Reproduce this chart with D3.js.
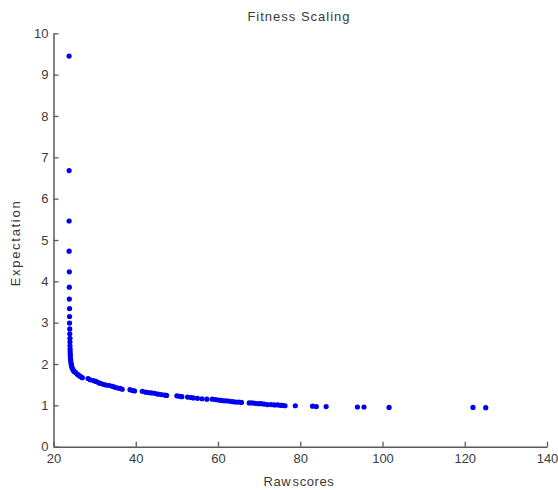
<!DOCTYPE html>
<html>
<head>
<meta charset="utf-8">
<script src="https://cdn.jsdelivr.net/npm/d3@7"></script>
<style>
  body { margin: 0; background: #fff; }
  svg { display: block; font-family: Arial, "Liberation Sans", sans-serif; }
</style>
</head>
<body>
<div id="chart"></div>
<script>
// raw scores (x) and expectation (y), one per individual, sorted by rank
const rawScores = [
  23.8, 23.8, 23.8, 23.8, 23.85, 23.85, 23.85, 23.9, 23.9, 23.9,
  23.95, 23.95, 24.0, 24.0, 24.0, 24.05, 24.05, 24.1, 24.1, 24.15,
  24.2, 24.3, 24.35, 24.45, 24.6, 24.8, 25.0, 25.4, 25.8, 26.1,
  26.5, 27.0, 28.4, 28.9, 29.7, 30.3, 30.9, 31.4, 32.1, 32.8,
  33.6, 34.3, 34.9, 35.6, 36.2, 36.7, 38.6, 39.2, 39.7, 41.6,
  42.4, 43.1, 43.8, 44.6, 45.4, 46.2, 47.0, 47.5, 50.0, 50.6,
  51.2, 52.6, 53.4, 54.0, 55.0, 56.1, 57.3, 58.6, 59.4, 60.1,
  60.8, 61.5, 62.2, 62.9, 63.6, 64.3, 65.0, 65.7, 67.6, 68.3,
  69.0, 69.8, 70.5, 71.2, 72.0, 72.9, 73.7, 74.5, 75.2, 75.7,
  76.3, 78.8, 83.0, 83.9, 86.3, 93.9, 95.5, 101.6, 122.0, 125.1
];
const expectation = [
  9.45, 6.68, 5.46, 4.73, 4.23, 3.86, 3.57, 3.34, 3.15, 2.99,
  2.85, 2.73, 2.62, 2.53, 2.44, 2.36, 2.29, 2.23, 2.17, 2.11,
  2.06, 2.01, 1.97, 1.93, 1.89, 1.85, 1.82, 1.79, 1.75, 1.73,
  1.70, 1.67, 1.65, 1.62, 1.60, 1.58, 1.55, 1.53, 1.51, 1.49,
  1.48, 1.46, 1.44, 1.42, 1.41, 1.39, 1.38, 1.36, 1.35, 1.34,
  1.32, 1.31, 1.30, 1.29, 1.27, 1.26, 1.25, 1.24, 1.23, 1.22,
  1.21, 1.20, 1.19, 1.18, 1.17, 1.16, 1.15, 1.15, 1.14, 1.13,
  1.12, 1.11, 1.11, 1.10, 1.09, 1.08, 1.08, 1.07, 1.06, 1.06,
  1.05, 1.04, 1.04, 1.03, 1.02, 1.02, 1.01, 1.01, 1.00, 1.00,
  0.99, 0.99, 0.98, 0.97, 0.97, 0.96, 0.96, 0.95, 0.95, 0.945
];
const xTicks = [20, 40, 60, 80, 100, 120, 140];
const yTicks = [0, 1, 2, 3, 4, 5, 6, 7, 8, 9, 10];

const width = 558, height = 490;
const margin = { top: 33.3, right: 11, bottom: 43.3, left: 53.5 };

const svg = d3.select('#chart').append('svg')
  .attr('width', width)
  .attr('height', height);

const x = d3.scaleLinear().domain([20, 140]).range([margin.left, width - margin.right]);
const y = d3.scaleLinear().domain([0, 10]).range([height - margin.bottom, margin.top]);

const axisColor = '#5a5a5a';
const textColor = '#3a3a3a';

// axes, MATLAB style: ticks pointing inward
const gx = svg.append('g')
  .attr('transform', `translate(0,${height - margin.bottom})`)
  .call(d3.axisBottom(x).tickValues(xTicks).tickSizeInner(-5).tickSizeOuter(0).tickPadding(7));
const gy = svg.append('g')
  .attr('transform', `translate(${margin.left},0)`)
  .call(d3.axisLeft(y).tickValues(yTicks).tickSizeInner(-5).tickSizeOuter(0).tickPadding(5));

[gx, gy].forEach(g => {
  g.select('.domain').attr('stroke', axisColor).attr('stroke-width', 1.5);
  g.selectAll('.tick line').attr('stroke', axisColor).attr('stroke-width', 1.3);
  g.selectAll('.tick text').attr('fill', textColor).attr('font-size', 13)
    .attr('font-family', 'Arial, "Liberation Sans", sans-serif');
});

// points
svg.append('g').selectAll('circle').data(rawScores.map((v, i) => [v, expectation[i]])).join('circle')
  .attr('cx', d => x(d[0]))
  .attr('cy', d => y(d[1]))
  .attr('r', 2.6)
  .attr('fill', '#0000f0');

// title and labels
svg.append('text')
  .attr('x', 299).attr('y', 21)
  .attr('text-anchor', 'middle')
  .attr('font-size', 13)
  .attr('letter-spacing', 1)
  .attr('fill', textColor)
  .text('Fitness Scaling');

svg.append('text')
  .attr('transform', `translate(20,${(margin.top + height - margin.bottom) / 2 + 3}) rotate(-90)`)
  .attr('text-anchor', 'middle')
  .attr('font-size', 13)
  .attr('letter-spacing', 1.7)
  .attr('fill', textColor)
  .text('Expectation');

svg.append('text')
  .attr('x', 299).attr('y', 486)
  .attr('text-anchor', 'middle')
  .attr('font-size', 13)
  .attr('letter-spacing', 0.6)
  .attr('word-spacing', -3)
  .attr('fill', textColor)
  .text('Raw scores');
</script>
</body>
</html>
